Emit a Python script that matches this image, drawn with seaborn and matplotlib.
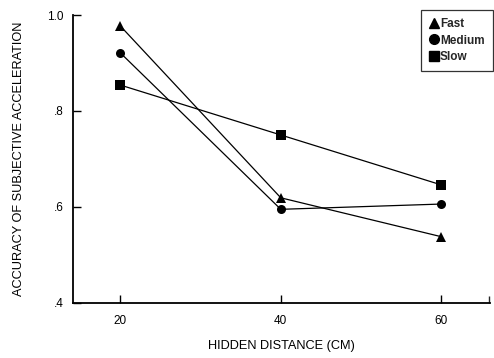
import matplotlib
matplotlib.use('Agg')
import matplotlib.pyplot as plt
from matplotlib.lines import Line2D
import seaborn as sns
import pandas as pd

# values
distances = [20, 40, 60]
fast = [0.977, 0.619, 0.538]
medium = [0.921, 0.595, 0.606]
slow = [0.854, 0.750, 0.646]
speeds = ['Fast', 'Medium', 'Slow']
y_ticks = [0.4, 0.6, 0.8, 1.0]
y_labels = ['.4', '.6', '.8', '1.0']

df = pd.DataFrame({
    'distance': distances * 3,
    'accuracy': fast + medium + slow,
    'speed': [s for s in speeds for _ in distances],
})

sns.set_style('ticks')
plt.rcParams['font.family'] = ['Liberation Sans', 'DejaVu Sans']

fig = plt.figure(figsize=(4.94, 3.58), dpi=100)
ax = fig.add_axes([0.148, 0.154, 0.844, 0.804])

markers = {'Fast': '^', 'Medium': 'o', 'Slow': 's'}
sns.lineplot(data=df, x='distance', y='accuracy', hue='speed', style='speed',
             palette=['black'] * 3, markers=markers, dashes=False,
             markersize=6.5, linewidth=0.9, markeredgewidth=0,
             legend=False, ax=ax)

ax.set_xlim(14.1, 66.1)
ax.set_ylim(0.4, 1.0)
ax.set_xticks(distances)
ax.set_xticklabels([str(d) for d in distances], fontsize=8.5)
ax.set_yticks(y_ticks)
ax.set_yticklabels(y_labels, fontsize=8.5)
ax.set_xticks([66.0], minor=True)
ax.tick_params(axis='both', direction='in', length=6, width=1, color='black',
               labelcolor='black')
ax.tick_params(axis='x', which='minor', direction='in', length=5, width=1)
ax.tick_params(axis='x', pad=9)
ax.tick_params(axis='y', pad=7)

for side in ['top', 'right']:
    ax.spines[side].set_visible(False)
for side in ['left', 'bottom']:
    ax.spines[side].set_linewidth(1.3)
    ax.spines[side].set_color('black')

ax.set_xlabel('HIDDEN DISTANCE (CM)', fontsize=9.2, color='black')
ax.set_ylabel('ACCURACY OF SUBJECTIVE ACCELERATION', fontsize=9.2, color='black')
ax.xaxis.set_label_coords(0.5, -0.13)
ax.yaxis.set_label_coords(-0.115, 0.5)

handles = [Line2D([], [], color='black', marker=markers[s], linestyle='none',
                  markersize=7) for s in speeds]
leg = ax.legend(handles, speeds, loc='upper right', bbox_to_anchor=(1.007, 1.017),
                frameon=True, fancybox=False, edgecolor='black', fontsize=8.5,
                handletextpad=0.15, handlelength=0.8, borderpad=0.7,
                labelspacing=0.35, borderaxespad=0.0)
leg.get_frame().set_linewidth(0.9)
for t in leg.get_texts():
    t.set_fontweight('bold')

fig.savefig('out.png', dpi=100)
